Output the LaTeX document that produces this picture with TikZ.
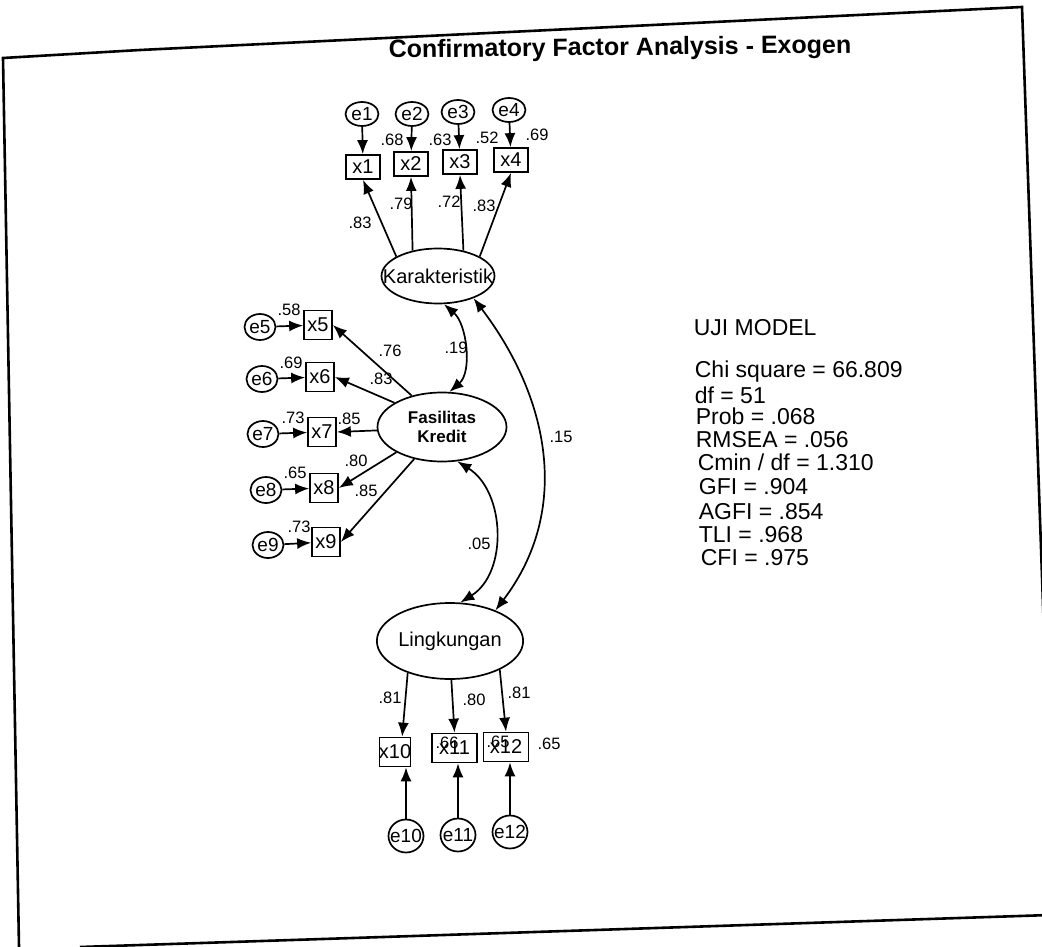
\documentclass[tikz,border=0pt]{standalone}
\usepackage{fontspec}
\setmainfont{Liberation Sans}
\usetikzlibrary{arrows.meta,shapes.geometric}
\newcommand{\zw}[1]{\makebox[0pt]{#1}}
\begin{document}
\begin{tikzpicture}[x=1pt,y=-1pt,line width=1.7pt,
  arr/.style={-{Latex[length=14pt,width=11pt]}},
  cov/.style={{Latex[length=14pt,width=11pt]}-{Latex[length=14pt,width=11pt]}},
  num/.style={font=\fontsize{16.5}{16.5}\selectfont, inner sep=0},
  lbl/.style={font=\fontsize{20}{20}\selectfont},
  elbl/.style={font=\fontsize{19}{19}\selectfont},
  errT/.style={draw, ellipse, inner sep=0, minimum width=33pt, minimum height=24pt, elbl},
  errL/.style={draw, ellipse, inner sep=0, minimum width=31pt, minimum height=26pt, elbl},
  errB/.style={draw, ellipse, inner sep=0, minimum width=35pt, minimum height=33pt, elbl},
  obsT/.style={draw, rectangle, inner sep=0, minimum width=34pt, minimum height=24pt, lbl},
  obsL/.style={draw, rectangle, inner sep=0, minimum width=28pt, minimum height=29pt, lbl},
  obsB/.style={draw, rectangle, inner sep=0, minimum height=29pt, lbl},
  lat/.style={draw, ellipse, inner sep=0, lbl},
  stat/.style={anchor=west, inner sep=0, font=\fontsize{23}{23}\selectfont},
  frame/.style={line width=2.6pt}
]
\useasboundingbox (0,0) rectangle (1042,947);
\clip (0,0) rectangle (1042,947);
% frame
\draw[frame] (19,947) -- (3,58) -- (140,50) -- (1022,7) -- (1046,690);
\draw[frame] (80,947) -- (1050,915);
% title
\node[font=\bfseries\fontsize{25}{25}\selectfont, rotate=0.6] (title) at (620,49) {Confirmatory Factor Analysis - Exogen};
% top
\node[errT] (e1) at (362,114) {e1};
\node[errT] (e2) at (412,114) {e2};
\node[errT] (e3) at (458,112) {e3};
\node[errT] (e4) at (509,110) {e4};
\node[obsT] (x1) at (363,167) {x1};
\node[obsT] (x2) at (411,164) {x2};
\node[obsT] (x3) at (460,162) {x3};
\node[obsT] (x4) at (511,160) {x4};
% left
\node[errL] (e5) at (260,327) {e5};
\node[errL] (e6) at (262,379) {e6};
\node[errL] (e7) at (263,434) {e7};
\node[errL] (e8) at (266,490) {e8};
\node[errL] (e9) at (268,545) {e9};
\node[obsL] (x5) at (318,325) {x5};
\node[obsL] (x6) at (320,377) {x6};
\node[obsL] (x7) at (322,432) {x7};
\node[obsL] (x8) at (324,488) {x8};
\node[obsL] (x9) at (326,542) {x9};
% latent
\node[lat, minimum width=113pt, minimum height=55pt] (K) at (438,276) {\zw{Karakteristik}};
\node[lat, minimum width=129pt, minimum height=69pt, align=center, font=\bfseries\fontsize{17}{19}\selectfont] (F) at (442,427) {Fasilitas\\Kredit};
\node[lat, minimum width=135pt, minimum height=76pt] (L) at (450,641) {Lingkungan};
% bottom
\node[obsB, minimum width=31pt] (x10) at (395,752) {\zw{x10}};
\node[obsB, minimum width=45pt] (x11) at (454.5,748) {x11};
\node[obsB, minimum width=45pt] (x12) at (506,747) {x12};
\node[errB] (e10) at (406,836) {\zw{e10}};
\node[errB] (e11) at (458,835) {\zw{e11}};
\node[errB] (e12) at (510,832) {\zw{e12}};
% error arrows
\draw[arr] (e1) -- (x1);
\draw[arr] (e2) -- (x2);
\draw[arr] (e3) -- (x3);
\draw[arr] (e4) -- (x4);
\draw[arr] (e5) -- (x5);
\draw[arr] (e6) -- (x6);
\draw[arr] (e7) -- (x7);
\draw[arr] (e8) -- (x8);
\draw[arr] (e9) -- (x9);
\draw[arr] (e10.north) -- (e10.north |- x10.south);
\draw[arr] (e11.north) -- (e11.north |- x11.south);
\draw[arr] (e12.north) -- (e12.north |- x12.south);
% loadings
\draw[arr] (K.155) -- (x1.south);
\draw[arr] (K.135) -- (x2.south);
\draw[arr] (K.45) -- (x3.south);
\draw[arr] (K.25) -- (x4.south);
\draw[arr] (F.134) -- (x5.east);
\draw[arr] (F.153) -- (x6.east);
\draw[arr] (F.183) -- (x7.east);
\draw[arr] (F.209) -- (x8.east);
\draw[arr] (F.229) -- (x9.east);
\draw[arr] (L.217) -- (x10.65);
\draw[arr] (L.272) -- (x11.north);
\draw[arr] (L.330) -- (x12.north);
% covariances
\draw[cov] (K.282) .. controls +(23,20) and +(23,-20) .. (F.78);
\draw[cov] (K.328) .. controls +(76,100) and +(76,-100) .. (L.34);
\draw[cov] (F.294) .. controls +(48,30) and +(48,-30) .. (L.75);
% numbers
\node[num] (n1) at (392,140) {.68};
\node[num] (n2) at (440,140) {.63};
\node[num] (n3) at (487,138) {.52};
\node[num] (n4) at (537,135) {.69};
\node[num] (l1) at (360,223) {.83};
\node[num] (l2) at (401,204) {.79};
\node[num] (l3) at (449,202) {.72};
\node[num] (l4) at (484,206) {.83};
\node[num] (n5) at (289,310) {.58};
\node[num] (n6) at (291,363) {.69};
\node[num] (n7) at (293,418) {.73};
\node[num] (n8) at (295,473) {.65};
\node[num] (n9) at (299,527) {.73};
\node[num] (l5) at (390,351) {.76};
\node[num] (l6) at (381,379) {.83};
\node[num] (l7) at (349,419) {.85};
\node[num] (l8) at (356,461) {.80};
\node[num] (l9) at (366,491) {.85};
\node[num] (l10) at (390,698) {.81};
\node[num] (l11) at (474,700) {.80};
\node[num] (l12) at (519,693) {.81};
\node[num] (n10) at (447,743) {.66};
\node[num] (n11) at (498,742) {.65};
\node[num] (n12) at (549,744) {.65};
\node[num] (c1) at (456,348) {.19};
\node[num] (c2) at (561,437) {.15};
\node[num] (c3) at (479,544) {.05};
% stats
\node[stat] (s0) at (693,328) {UJI MODEL};
\node[stat] (s1) at (694,372) {Chi square = 66.809};
\node[stat] (s2) at (694,395) {df = 51};
\node[stat] (s3) at (695,416) {Prob = .068};
\node[stat] (s4) at (695,440) {RMSEA = .056};
\node[stat] (s5) at (697,462) {Cmin / df = 1.310};
\node[stat] (s6) at (698,487) {GFI = .904};
\node[stat] (s7) at (698,512) {AGFI = .854};
\node[stat] (s8) at (698,535) {TLI = .968};
\node[stat] (s9) at (700,558) {CFI = .975};
\end{tikzpicture}
\end{document}
